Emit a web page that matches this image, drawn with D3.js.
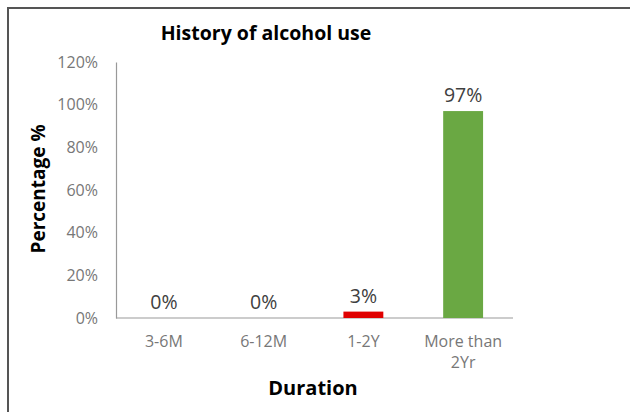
<!DOCTYPE html>
<html>
<head>
<meta charset="utf-8">
<script src="https://cdn.jsdelivr.net/npm/d3@7"></script>
<style>
  body { margin: 0; background: #fff; }
  svg { display: block; }
  svg text { font-family: "Open Sans", sans-serif; }
</style>
</head>
<body>
<div id="chart"></div>
<script>
const categories = ["3-6M", "6-12M", "1-2Y", "More than 2Yr"];
const values = [0, 0, 3, 97];
const barColors = ["#c00000", "#c00000", "#e00000", "#6aa843"];
const yTicks = [0, 20, 40, 60, 80, 100, 120];

const width = 630, height = 412;
const svg = d3.select("#chart").append("svg")
    .attr("width", width)
    .attr("height", height);

// outer frame
svg.append("rect")
    .attr("x", 8).attr("y", 8)
    .attr("width", 640).attr("height", 420)
    .attr("fill", "#fff")
    .attr("stroke", "#555")
    .attr("stroke-width", 2);

const x = d3.scaleBand()
    .domain(categories)
    .range([114, 513])
    .paddingInner(0.6)
    .paddingOuter(0.3);

const y = d3.scaleLinear()
    .domain([0, 120])
    .range([318, 62]);

// y axis
const yAxis = svg.append("g")
    .attr("transform", "translate(116,0)")
    .call(d3.axisLeft(y).tickValues(yTicks).tickSize(0).tickPadding(18).tickFormat(d => d + "%"));
yAxis.attr("font-family", null);
yAxis.select(".domain").attr("stroke", "#999").attr("stroke-width", 1.2);
yAxis.selectAll("text")
    .attr("fill", "#777")
    .style("font-size", "16px");

// x axis
const xAxis = svg.append("g")
    .attr("transform", "translate(0,318)")
    .call(d3.axisBottom(x).tickSize(0).tickPadding(0));
xAxis.attr("font-family", null);
xAxis.select(".domain").attr("d", "M116,0H513").attr("stroke", "#999").attr("stroke-width", 1.2);
xAxis.selectAll(".tick text").remove();
xAxis.selectAll(".tick").each(function (d) {
    const t = d3.select(this).append("text")
        .attr("fill", "#777")
        .attr("text-anchor", "middle")
        .style("font-size", "16px");
    const lines = d === "More than 2Yr" ? ["More than", "2Yr"] : [d];
    lines.forEach((l, i) => {
        t.append("tspan").attr("x", 0).attr("y", 29 + i * 21).text(l);
    });
});

// bars
svg.selectAll(".bar")
    .data(values)
    .join("rect")
    .attr("class", "bar")
    .attr("x", (d, i) => x(categories[i]))
    .attr("width", x.bandwidth())
    .attr("y", d => y(d))
    .attr("height", d => y(0) - y(d))
    .attr("fill", (d, i) => barColors[i]);

// value labels
svg.selectAll(".val")
    .data(values)
    .join("text")
    .attr("class", "val")
    .attr("x", (d, i) => x(categories[i]) + x.bandwidth() / 2)
    .attr("y", d => y(d) - 9)
    .attr("text-anchor", "middle")
    .attr("fill", "#404040")
    .style("font-size", "19.5px")
    .text(d => d + "%");

// title
svg.append("text")
    .attr("x", 266).attr("y", 40)
    .attr("text-anchor", "middle")
    .attr("fill", "#000")
    .style("font-size", "19.5px")
    .style("font-weight", "bold")
    .text("History of alcohol use");

// x title
svg.append("text")
    .attr("x", 313).attr("y", 395)
    .attr("text-anchor", "middle")
    .attr("fill", "#000")
    .style("font-size", "20px")
    .style("font-weight", "bold")
    .text("Duration");

// y title
svg.append("text")
    .attr("transform", "translate(45,189) rotate(-90)")
    .attr("text-anchor", "middle")
    .attr("fill", "#000")
    .style("font-size", "19px")
    .style("font-weight", "bold")
    .text("Percentage %");
</script>
</body>
</html>
